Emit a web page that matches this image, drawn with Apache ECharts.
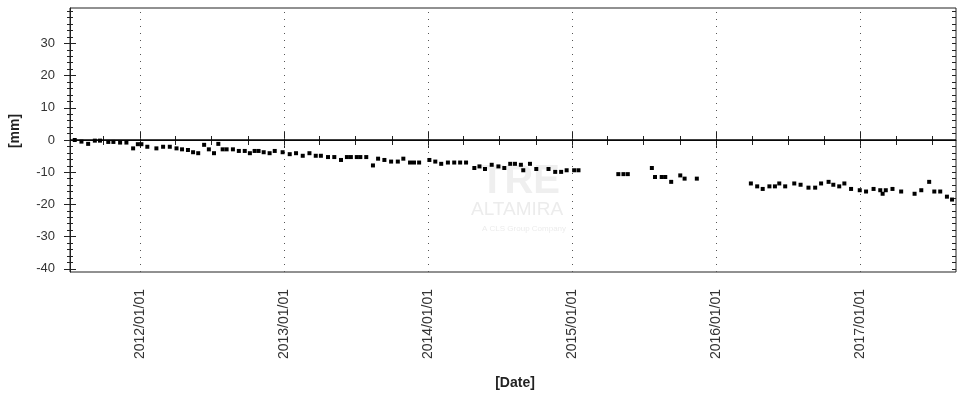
<!DOCTYPE html>
<html>
<head>
<meta charset="utf-8">
<title>Displacement time series</title>
<script src="https://cdn.jsdelivr.net/npm/echarts@6/dist/echarts.min.js"></script>
<style>
  html, body { margin: 0; padding: 0; background: #fff; }
  #chart { width: 961px; height: 395px; }
</style>
</head>
<body>
<div id="chart"></div>
<script>
// acquisition dates and displacement [mm]
const dates = [
  "2011-07-20", "2011-08-06", "2011-08-23", "2011-09-09", "2011-09-22", "2011-10-13",
  "2011-10-26", "2011-11-12", "2011-11-28", "2011-12-15", "2011-12-27", "2012-01-05",
  "2012-01-20", "2012-02-12", "2012-02-29", "2012-03-17", "2012-04-03", "2012-04-17",
  "2012-05-02", "2012-05-15", "2012-05-28", "2012-06-12", "2012-06-24", "2012-07-07",
  "2012-07-18", "2012-07-29", "2012-08-08", "2012-08-24", "2012-09-08", "2012-09-23",
  "2012-10-06", "2012-10-18", "2012-10-28", "2012-11-10", "2012-11-25", "2012-12-08",
  "2012-12-28", "2013-01-15", "2013-01-31", "2013-02-17", "2013-03-06", "2013-03-22",
  "2013-04-04", "2013-04-22", "2013-05-08", "2013-05-25", "2013-06-09", "2013-06-19",
  "2013-07-04", "2013-07-13", "2013-07-28", "2013-08-14", "2013-08-27", "2013-09-12",
  "2013-09-29", "2013-10-16", "2013-10-30", "2013-11-16", "2013-11-26", "2013-12-09",
  "2014-01-04", "2014-01-19", "2014-02-03", "2014-02-20", "2014-03-08", "2014-03-23",
  "2014-04-07", "2014-04-28", "2014-05-11", "2014-05-25", "2014-06-11", "2014-06-28",
  "2014-07-13", "2014-07-28", "2014-08-09", "2014-08-24", "2014-08-30", "2014-09-16",
  "2014-10-02", "2014-11-02", "2014-11-19", "2014-12-04", "2014-12-18", "2015-01-06",
  "2015-01-17", "2015-04-28", "2015-05-11", "2015-05-22", "2015-07-22", "2015-07-30",
  "2015-08-16", "2015-08-25", "2015-09-09", "2015-10-02", "2015-10-13", "2015-11-13",
  "2016-03-29", "2016-04-14", "2016-04-28", "2016-05-15", "2016-05-29", "2016-06-09",
  "2016-06-24", "2016-07-17", "2016-08-02", "2016-08-22", "2016-09-08", "2016-09-23",
  "2016-10-12", "2016-10-24", "2016-11-08", "2016-11-21", "2016-12-08", "2016-12-30",
  "2017-01-15", "2017-02-03", "2017-02-20", "2017-02-26", "2017-03-06", "2017-03-23",
  "2017-04-14", "2017-05-18", "2017-06-04", "2017-06-24", "2017-07-07", "2017-07-22",
  "2017-08-08", "2017-08-21"
];
const displacement = [
  0.0, -0.5, -1.2, -0.2, -0.2, -0.6,
  -0.6, -0.8, -0.8, -2.6, -1.3, -1.3,
  -2.1, -2.6, -2.1, -2.1, -2.6, -2.9,
  -3.1, -3.8, -4.1, -1.5, -2.9, -4.1,
  -1.2, -2.9, -2.9, -2.9, -3.4, -3.4,
  -4.1, -3.4, -3.4, -3.8, -4.1, -3.4,
  -3.8, -4.4, -4.1, -4.9, -4.1, -4.9,
  -4.9, -5.3, -5.3, -6.2, -5.3, -5.3,
  -5.3, -5.3, -5.3, -7.9, -5.8, -6.2,
  -6.7, -6.7, -5.8, -7.0, -7.0, -7.0,
  -6.2, -6.7, -7.4, -7.0, -7.0, -7.0,
  -7.0, -8.7, -8.2, -9.0, -7.7, -8.2,
  -8.7, -7.4, -7.4, -7.7, -9.4, -7.4,
  -9.0, -9.0, -9.9, -9.9, -9.4, -9.4,
  -9.4, -10.6, -10.6, -10.6, -8.7, -11.5,
  -11.5, -11.5, -13.0, -11.0, -12.0, -12.0,
  -13.5, -14.4, -15.2, -14.4, -14.4, -13.5,
  -14.4, -13.5, -13.9, -14.8, -14.8, -13.5,
  -13.0, -13.9, -14.4, -13.5, -15.2, -15.6,
  -16.0, -15.2, -15.6, -16.7, -15.6, -15.2,
  -16.0, -16.7, -15.6, -13.0, -16.0, -16.0,
  -17.6, -18.5
];

const yearTicks = ["2012-01-01", "2013-01-01", "2014-01-01", "2015-01-01", "2016-01-01", "2017-01-01"];
const yLabels = [-40, -30, -20, -10, 0, 10, 20, 30];
const xMin = "2011-07-08";
const xMax = "2017-08-31";
const yMin = -41;
const yMax = 41;

const ts = (s) => Date.parse(s);
const years = yearTicks.map(ts);
const quarters = [];
for (let y = 2011; y <= 2017; y++) {
  for (const m of [0, 3, 6, 9]) {
    const t = Date.UTC(y, m, 1);
    if (t >= ts(xMin) && t <= ts(xMax)) quarters.push(t);
  }
}
const minorY = [];
for (let v = -40; v <= 40; v += 2) minorY.push(v);

const fmtDate = (v) => {
  const d = new Date(v);
  const p = (n) => String(n).padStart(2, "0");
  return `${d.getUTCFullYear()}/${p(d.getUTCMonth() + 1)}/${p(d.getUTCDate())}`;
};

// extra axes only used to draw tick marks that cross the frame
const tickAxis = (position, values, len, inside) => ({
  type: "value",
  position,
  min: position === "left" || position === "right" ? yMin : ts(xMin),
  max: position === "left" || position === "right" ? yMax : ts(xMax),
  axisLine: { show: false },
  axisLabel: { show: false },
  splitLine: { show: false },
  axisTick: {
    show: true,
    inside,
    length: len,
    customValues: values,
    lineStyle: { color: "#222", width: 1 },
  },
});

const chart = echarts.init(document.getElementById("chart"));

chart.setOption({
  animation: false,
  grid: {
    left: 70,
    right: 5,
    top: 8,
    bottom: 123,
    show: true,
    borderColor: "#222",
    borderWidth: 1,
  },
  graphic: [
    {
      type: "text",
      left: 480,
      top: 162,
      z: 0,
      style: { text: "TRE", font: "bold 40px 'Liberation Sans'", fill: "#efefef" },
    },
    {
      type: "text",
      left: 471,
      top: 200,
      z: 0,
      style: { text: "ALTAMIRA", font: "19px 'Liberation Sans'", fill: "#ececec" },
    },
    {
      type: "text",
      left: 482,
      top: 225,
      z: 0,
      style: { text: "A CLS Group Company", font: "8px 'Liberation Sans'", fill: "#ececec" },
    },
    {
      type: "text",
      x: 15,
      y: 131,
      rotation: Math.PI / 2,
      style: {
        text: "[mm]",
        font: "bold 14px 'Liberation Sans'",
        fill: "#222",
        align: "center",
        verticalAlign: "middle",
      },
    },
    {
      type: "text",
      x: 515,
      y: 383,
      style: {
        text: "[Date]",
        font: "bold 14px 'Liberation Sans'",
        fill: "#222",
        align: "center",
        verticalAlign: "middle",
      },
    },
  ],
  xAxis: [
    {
      type: "value",
      position: "bottom",
      min: ts(xMin),
      max: ts(xMax),
      axisLine: { show: true, lineStyle: { color: "#222", width: 1 } },
      splitLine: { show: false },
      axisTick: {
        show: true,
        length: 8,
        customValues: years,
        lineStyle: { color: "#222" },
      },
      axisLabel: {
        customValues: years,
        rotate: 90,
        margin: 17,
        formatter: fmtDate,
        fontFamily: "Liberation Sans",
        fontSize: 14,
        color: "#333",
      },
    },
    tickAxis("bottom", years, 8, true),
    tickAxis("bottom", quarters, 4, false),
    tickAxis("bottom", quarters, 4, true),
    tickAxis("top", quarters, 5, true),
  ],
  yAxis: [
    {
      type: "value",
      position: "left",
      min: yMin,
      max: yMax,
      axisLine: { show: true, lineStyle: { color: "#222", width: 1 } },
      splitLine: { show: false },
      axisTick: {
        show: true,
        length: 6,
        customValues: yLabels,
        lineStyle: { color: "#222" },
      },
      axisLabel: {
        customValues: yLabels,
        margin: 15,
        fontFamily: "Liberation Sans",
        fontSize: 13,
        color: "#333",
      },
    },
    tickAxis("left", yLabels, 6, true),
    tickAxis("left", minorY, 3, false),
    tickAxis("left", minorY, 3, true),
    tickAxis("right", minorY, 4, true),
  ],
  series: [
    {
      type: "scatter",
      xAxisIndex: 0,
      yAxisIndex: 0,
      symbol: "rect",
      symbolSize: 4,
      itemStyle: { color: "#000", opacity: 1 },
      data: dates.map((d, i) => [ts(d), displacement[i]]),
      z: 5,
      markLine: {
        silent: true,
        symbol: "none",
        label: { show: false },
        data: [
          ...years.map((t) => ({
            xAxis: t,
            lineStyle: { color: "#555", width: 1, type: [1, 6] },
          })),
          { yAxis: 0, lineStyle: { color: "#000", width: 1.5, type: "solid" } },
        ],
      },
    },
  ],
});
</script>
</body>
</html>
